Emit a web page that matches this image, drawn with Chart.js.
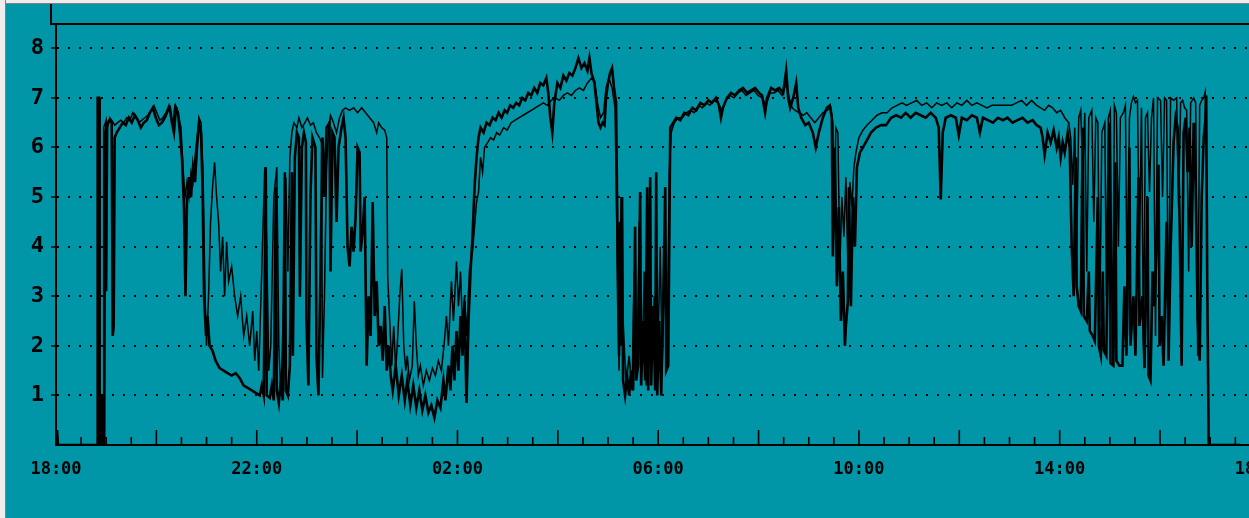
<!DOCTYPE html>
<html>
<head>
<meta charset="utf-8">
<script src="https://cdn.jsdelivr.net/npm/chart.js@4.4.1/dist/chart.umd.min.js"></script>
<style>
  html, body { margin: 0; padding: 0; background: #0096a8; overflow: hidden; }
  #wrap { position: absolute; left: 0; top: 0; width: 1300px; height: 518px; }
  .edge-top { position: absolute; left: 0; top: 0; width: 1249px; height: 3px; background: #ededed; border-bottom: 1px solid #808080; }
  .edge-left { position: absolute; left: 0; top: 0; width: 5px; height: 518px; background: #ededed; border-right: 1px solid #808080; }
</style>
</head>
<body>
<div id="wrap"><canvas id="chart" width="1300" height="518"></canvas></div>
<div class="edge-top"></div>
<div class="edge-left"></div>
<script>
// hours since 18:00 -> level
const hourTicks = [0, 4, 8, 12, 16, 20, 24];
const hourLabels = ['18:00', '22:00', '02:00', '06:00', '10:00', '14:00', '18:00'];
const levelTicks = [1, 2, 3, 4, 5, 6, 7, 8];

const thinSeries = [
  [0.94,0],[0.95,6.4],[1.00,6.55],[1.01,3.1],[1.03,6.4],[1.07,6.6],[1.11,6.55],[1.17,6.45],[1.23,6.5],[1.29,6.55],
  [1.35,6.5],[1.41,6.6],[1.47,6.55],[1.53,6.7],[1.59,6.6],[1.65,6.5],[1.71,6.55],[1.77,6.6],[1.83,6.65],[1.89,6.75],
  [1.95,6.85],[2.01,6.7],[2.07,6.55],[2.13,6.6],[2.19,6.7],[2.25,6.85],[2.29,6.6],[2.33,6.5],[2.37,6.85],[2.41,6.8],
  [2.45,6.6],[2.49,6.4],[2.53,5.6],[2.57,5.0],[2.61,5.3],[2.65,5.0],[2.69,5.5],[2.73,5.3],[2.77,5.8],[2.81,6.2],
  [2.85,6.6],[2.89,6.5],[2.93,5.5],[2.97,3.0],[3.00,2.0],[3.04,3.0],[3.08,4.5],[3.12,5.2],[3.16,5.7],[3.20,5.0],
  [3.24,4.5],[3.28,3.5],[3.32,4.2],[3.36,3.0],[3.40,4.1],[3.44,3.3],[3.50,3.6],[3.56,3.0],[3.62,2.6],[3.68,3.0],
  [3.74,2.2],[3.80,2.6],[3.86,2.0],[3.92,2.7],[3.96,1.7],[4.00,2.3],[4.04,1.5],[4.10,3.5],[4.16,5.6],[4.20,4.0],
  [4.24,1.5],[4.28,2.0],[4.34,5.0],[4.40,5.6],[4.44,2.0],[4.48,1.0],[4.54,3.0],[4.58,5.4],[4.62,3.5],[4.66,5.8],
  [4.70,6.3],[4.74,6.5],[4.80,6.4],[4.84,6.6],[4.90,6.4],[4.96,6.5],[5.01,6.6],[5.07,6.45],[5.13,6.5],[5.19,6.3],
  [5.25,6.2],[5.29,6.1],[5.31,1.35],[5.35,3.0],[5.39,5.5],[5.43,6.4],[5.47,6.65],[5.53,6.5],[5.59,6.3],[5.65,6.6],
  [5.71,6.75],[5.77,6.8],[5.85,6.75],[5.93,6.8],[6.01,6.7],[6.09,6.8],[6.17,6.7],[6.25,6.6],[6.33,6.5],[6.39,6.3],
  [6.43,6.5],[6.49,6.4],[6.55,6.35],[6.59,6.2],[6.61,3.4],[6.65,2.5],[6.69,1.6],[6.73,2.4],[6.77,1.5],[6.81,2.2],
  [6.85,3.0],[6.89,3.55],[6.93,2.0],[6.97,1.5],[7.00,1.8],[7.04,1.3],[7.10,1.6],[7.14,2.9],[7.18,2.0],[7.22,1.4],
  [7.26,1.6],[7.32,1.2],[7.38,1.5],[7.44,1.3],[7.50,1.55],[7.56,1.4],[7.62,1.7],[7.68,1.5],[7.74,2.1],[7.78,2.6],
  [7.82,2.0],[7.88,3.3],[7.92,2.5],[7.98,3.7],[8.02,2.8],[8.06,3.5],[8.10,2.4],[8.14,3.0],[8.18,2.2],[8.24,3.55],
  [8.30,3.9],[8.34,4.4],[8.38,4.9],[8.42,5.1],[8.46,5.8],[8.50,5.5],[8.54,6.0],[8.60,6.1],[8.66,6.2],[8.72,6.15],
  [8.78,6.3],[8.84,6.25],[8.92,6.4],[8.99,6.35],[9.07,6.5],[9.15,6.55],[9.23,6.6],[9.31,6.65],[9.39,6.7],[9.47,6.75],
  [9.55,6.8],[9.63,6.85],[9.71,6.9],[9.79,6.85],[9.87,6.95],[9.95,7.0],[10.03,6.95],[10.11,7.05],[10.19,7.1],[10.27,7.05],
  [10.35,7.15],[10.43,7.2],[10.51,7.15],[10.59,7.3],[10.67,7.4],[10.73,7.35],[10.79,6.9],[10.85,6.6],[10.91,6.7],[10.96,7.2],
  [11.02,7.4],[11.08,7.2],[11.14,6.8],[11.18,4.0],[11.22,1.5],[11.26,5.0],[11.30,2.5],[11.36,1.2],[11.42,1.8],[11.48,1.1],
  [11.52,3.5],[11.58,1.4],[11.62,4.5],[11.68,1.5],[11.72,3.5],[11.76,1.2],[11.82,4.8],[11.88,1.6],[11.92,3.0],[11.98,1.3],
  [12.04,4.0],[12.08,1.6],[12.12,3.5],[12.18,2.0],[12.22,5.5],[12.26,6.3],[12.32,6.5],[12.40,6.6],[12.48,6.6],[12.56,6.7],
  [12.64,6.75],[12.72,6.7],[12.80,6.85],[12.88,6.8],[12.96,6.9],[13.03,6.85],[13.11,6.95],[13.19,6.9],[13.27,6.75],[13.35,6.95],
  [13.43,7.05],[13.51,7.0],[13.59,7.1],[13.67,7.15],[13.75,7.05],[13.83,7.1],[13.91,7.15],[13.99,7.05],[14.07,7.0],[14.15,6.85],
  [14.23,7.1],[14.31,7.1],[14.39,7.15],[14.47,7.05],[14.55,7.3],[14.61,7.0],[14.67,6.8],[14.73,6.75],[14.81,6.7],[14.89,6.65],
  [14.96,6.7],[15.04,6.6],[15.12,6.5],[15.20,6.6],[15.28,6.7],[15.36,6.75],[15.44,6.8],[15.48,6.5],[15.50,4.5],[15.54,6.4],
  [15.58,6.3],[15.62,3.6],[15.66,5.0],[15.70,4.2],[15.74,5.4],[15.78,3.6],[15.82,5.3],[15.86,4.8],[15.90,5.6],[15.94,5.9],
  [16.00,6.2],[16.08,6.35],[16.16,6.45],[16.26,6.55],[16.36,6.65],[16.46,6.7],[16.56,6.7],[16.66,6.8],[16.76,6.85],[16.86,6.9],
  [16.95,6.85],[17.05,6.9],[17.15,6.95],[17.25,6.85],[17.35,6.9],[17.45,6.8],[17.55,6.9],[17.65,6.85],[17.75,6.9],[17.85,6.8],
  [17.95,6.9],[18.05,6.85],[18.15,6.95],[18.25,6.85],[18.35,6.9],[18.45,6.85],[18.55,6.8],[18.65,6.85],[18.75,6.85],[18.85,6.85],
  [18.94,6.85],[19.04,6.85],[19.14,6.9],[19.24,6.95],[19.34,6.85],[19.44,6.95],[19.54,6.85],[19.62,6.8],[19.70,6.75],[19.78,6.85],
  [19.86,6.8],[19.94,6.7],[20.02,6.75],[20.10,6.6],[20.18,6.5],[20.22,6.2],[20.26,5.25],[20.30,6.4],[20.34,4.0],[20.38,6.6],
  [20.42,6.75],[20.46,5.5],[20.50,6.7],[20.54,3.5],[20.58,6.6],[20.64,6.75],[20.68,4.5],[20.72,6.6],[20.76,6.5],[20.80,2.5],
  [20.84,6.3],[20.90,6.5],[20.93,3.0],[20.97,6.6],[21.01,6.75],[21.05,1.6],[21.09,6.85],[21.13,6.7],[21.17,4.0],[21.21,6.6],
  [21.27,6.7],[21.31,6.85],[21.35,2.2],[21.39,6.6],[21.43,6.9],[21.47,7.03],[21.51,6.9],[21.55,6.95],[21.59,3.8],[21.63,6.8],
  [21.67,2.0],[21.71,6.6],[21.75,6.7],[21.79,5.1],[21.83,6.6],[21.87,7.0],[21.91,2.2],[21.95,7.0],[22.01,6.95],[22.05,5.0],
  [22.09,7.0],[22.13,6.95],[22.17,2.0],[22.21,7.0],[22.27,6.95],[22.33,7.0],[22.37,4.8],[22.41,6.9],[22.45,6.95],[22.49,6.8],
  [22.53,6.75],[22.57,3.5],[22.61,6.9],[22.67,7.0],[22.71,6.9],[22.75,1.8],[22.79,6.85],[22.83,6.95],[22.87,7.0],[22.90,7.12],
  [22.92,6.0],[22.94,3.3]
];

const thickSeries = [
  [0.02,0.3],[0.04,0],[0.82,0],[0.83,7.0],[0.86,7.0],[0.87,0],[0.90,0],[0.91,1.0],[0.92,0],[0.95,0.9],[0.96,0],
  [0.98,6.3],[1.01,6.45],[1.07,6.55],[1.11,6.5],[1.13,2.2],[1.15,2.4],[1.17,6.2],[1.21,6.3],[1.27,6.4],[1.33,6.5],
  [1.39,6.45],[1.45,6.6],[1.51,6.5],[1.57,6.65],[1.63,6.55],[1.69,6.4],[1.75,6.5],[1.81,6.55],[1.87,6.7],[1.93,6.8],
  [1.99,6.6],[2.05,6.45],[2.11,6.5],[2.17,6.6],[2.23,6.75],[2.27,6.8],[2.31,6.5],[2.35,6.3],[2.39,6.8],[2.43,6.7],
  [2.47,6.3],[2.51,5.8],[2.55,4.8],[2.58,3.0],[2.61,4.9],[2.65,5.4],[2.69,5.0],[2.73,5.6],[2.77,5.3],[2.81,6.0],
  [2.85,6.5],[2.89,6.3],[2.92,5.2],[2.95,3.0],[2.99,2.2],[3.02,2.6],[3.06,2.0],[3.12,1.9],[3.18,1.7],[3.26,1.55],
  [3.34,1.5],[3.42,1.45],[3.50,1.4],[3.58,1.45],[3.66,1.35],[3.74,1.2],[3.82,1.15],[3.90,1.1],[3.98,1.05],[4.06,1.0],
  [4.10,1.2],[4.14,1.0],[4.18,5.6],[4.20,1.0],[4.26,0.95],[4.30,1.2],[4.34,0.9],[4.38,5.2],[4.40,1.1],[4.44,0.85],
  [4.48,1.3],[4.52,0.9],[4.56,5.5],[4.58,1.1],[4.62,1.0],
  [4.66,1.6],[4.70,5.5],[4.72,1.8],[4.76,5.8],[4.80,6.3],[4.84,6.2],[4.86,3.0],[4.90,6.0],[4.94,6.3],[4.98,6.1],
  [4.99,2.5],[5.03,1.2],[5.07,5.0],[5.11,6.2],[5.17,6.0],[5.19,1.8],[5.23,1.0],[5.27,3.5],[5.31,6.2],[5.35,5.0],
  [5.39,6.4],[5.45,6.5],[5.47,3.5],[5.51,6.3],[5.55,6.2],[5.59,4.5],[5.63,6.0],[5.69,6.4],[5.73,6.6],[5.77,6.2],
  [5.81,4.0],[5.85,3.6],[5.89,4.4],[5.93,3.9],[5.97,4.6],[6.01,6.0],[6.05,5.9],[6.07,3.9],[6.11,4.3],[6.15,5.0],
  [6.19,1.6],[6.23,3.0],[6.27,2.2],[6.31,4.9],[6.35,2.6],[6.39,3.3],[6.43,2.0],[6.47,2.4],[6.51,1.7],[6.55,2.8],
  [6.59,1.5],[6.63,2.0],[6.67,1.4],
  [6.71,1.1],[6.77,1.6],[6.83,1.0],[6.89,1.4],[6.95,0.9],[7.00,1.3],[7.06,0.8],[7.12,1.2],[7.18,0.75],[7.24,1.1],
  [7.30,0.7],[7.36,1.0],[7.42,0.65],[7.48,0.8],[7.54,0.55],[7.60,0.9],[7.66,0.75],[7.72,1.3],[7.76,0.9],[7.82,1.6],
  [7.86,1.1],[7.90,2.0],[7.94,1.3],[7.98,2.3],[8.02,1.5],[8.06,2.6],[8.10,1.8],[8.14,2.9],[8.18,0.85],[8.22,2.5],
  [8.26,3.5],[8.30,4.2],[8.34,5.2],[8.38,5.8],[8.42,6.2],[8.46,6.4],[8.52,6.3],[8.58,6.5],[8.64,6.45],[8.70,6.6],
  [8.76,6.55],[8.82,6.7],[8.88,6.6],[8.94,6.75],[8.99,6.7],[9.05,6.85],[9.11,6.8],[9.17,6.9],[9.23,6.85],[9.29,7.0],
  [9.35,6.95],[9.41,7.1],[9.47,7.05],[9.53,7.2],[9.59,7.1],[9.65,7.3],[9.71,7.25],[9.77,7.4],[9.81,7.1],[9.85,6.6],
  [9.89,6.3],[9.93,6.9],[9.99,7.3],[10.05,7.2],[10.11,7.45],[10.17,7.35],[10.23,7.5],[10.29,7.45],[10.35,7.6],[10.41,7.8],
  [10.47,7.6],[10.53,7.7],[10.59,7.55],[10.63,7.8],[10.67,7.5],[10.73,7.3],[10.77,6.9],[10.81,6.5],[10.85,6.4],[10.89,6.5],
  [10.93,6.45],[10.96,7.0],[11.00,7.3],[11.04,7.5],[11.08,7.6],[11.12,7.2],[11.16,6.9],[11.18,5.0],[11.20,3.0],[11.22,1.8],
  [11.24,4.5],[11.26,2.0],[11.28,5.0],[11.30,1.3],[11.34,1.0],[11.38,1.4],[11.42,1.0],
  [11.46,1.5],[11.50,1.1],[11.54,4.4],[11.56,1.3],[11.60,1.6],[11.64,5.1],[11.66,1.2],[11.70,2.5],[11.74,1.3],[11.78,5.2],
  [11.80,1.1],[11.84,5.4],[11.86,1.2],[11.90,2.8],[11.94,1.1],[11.96,5.5],[11.98,1.0],[12.02,2.5],[12.06,1.0],[12.10,2.9],
  [12.14,5.2],[12.16,1.5],[12.20,1.6],[12.24,6.4],[12.30,6.5],[12.36,6.6],[12.44,6.55],[12.52,6.7],[12.60,6.65],[12.68,6.8],
  [12.76,6.75],[12.84,6.9],[12.92,6.85],[13.00,6.95],[13.07,6.9],[13.15,7.0],[13.21,6.85],[13.25,6.6],[13.29,6.8],[13.37,7.0],
  [13.45,7.1],[13.53,7.05],[13.61,7.15],[13.69,7.2],[13.77,7.1],[13.85,7.15],[13.93,7.2],[14.01,7.1],[14.07,7.05],[14.13,6.7],
  [14.17,7.0],[14.25,7.2],[14.33,7.15],[14.41,7.2],[14.49,7.1],[14.55,7.55],[14.59,7.0],[14.63,6.8],[14.69,7.0],[14.75,7.3],
  [14.79,6.8],[14.85,6.6],[14.93,6.45],[15.00,6.5],[15.08,6.3],[15.14,6.0],[15.20,6.3],[15.28,6.6],[15.36,6.8],[15.42,6.85],
  [15.46,6.6],
  [15.48,3.8],[15.52,6.0],[15.56,3.2],[15.60,4.8],[15.64,2.5],[15.68,3.5],[15.72,2.0],[15.74,2.4],[15.78,2.9],[15.80,5.2],
  [15.84,2.8],[15.88,5.0],[15.92,4.0],[15.96,5.6],[16.02,5.9],[16.08,6.0],[16.16,6.15],[16.24,6.3],[16.34,6.4],[16.44,6.45],
  [16.54,6.45],[16.64,6.6],[16.74,6.65],[16.84,6.6],[16.93,6.7],[17.03,6.6],[17.13,6.7],[17.23,6.65],[17.33,6.6],[17.43,6.7],
  [17.53,6.6],[17.59,6.4],[17.63,4.95],[17.67,6.3],[17.73,6.6],[17.83,6.65],[17.93,6.6],[17.99,6.25],[18.05,6.6],[18.15,6.55],
  [18.25,6.65],[18.35,6.6],[18.41,6.3],[18.47,6.6],[18.57,6.55],[18.67,6.5],[18.77,6.6],[18.87,6.55],[18.96,6.6],[19.06,6.5],
  [19.16,6.55],[19.26,6.6],[19.36,6.5],[19.46,6.55],[19.54,6.45],
  [19.62,6.4],[19.66,6.2],[19.70,5.85],[19.76,6.3],[19.82,6.1],[19.88,6.35],[19.94,6.0],[19.98,6.2],[20.02,5.8],[20.06,6.1],
  [20.10,5.9],[20.16,6.3],[20.20,6.0],[20.24,4.0],[20.28,3.0],[20.32,5.8],[20.34,3.2],[20.38,2.8],[20.42,2.7],[20.46,6.4],
  [20.48,2.6],[20.54,2.5],[20.58,3.5],[20.60,2.3],[20.66,2.2],[20.70,2.1],[20.76,5.0],[20.78,2.0],[20.82,1.8],[20.86,3.5],
  [20.88,1.9],[20.93,1.8],[20.99,6.5],[21.01,1.65],[21.07,1.6],[21.11,5.7],[21.13,1.7],[21.19,1.6],[21.25,1.6],[21.29,3.2],
  [21.33,1.8],[21.39,6.0],[21.41,2.0],[21.47,3.0],[21.51,1.8],[21.57,5.4],[21.59,2.4],[21.65,3.0],[21.69,1.55],[21.75,5.0],
  [21.77,1.4],[21.81,1.3],[21.85,3.5],[21.89,2.8],[21.93,4.0],[21.97,5.65],[21.99,2.0],[22.03,2.6],[22.07,1.6],[22.13,4.5],
  [22.17,1.7],[22.21,3.9],[22.27,6.1],[22.31,6.6],[22.35,6.4],[22.39,4.5],[22.43,1.6],[22.47,6.3],[22.51,6.6],[22.55,5.5],
  [22.59,6.4],[22.63,4.0],[22.67,6.5],[22.71,5.2],[22.75,2.5],[22.79,1.7],[22.83,5.0],[22.87,6.2],[22.90,6.5],[22.92,7.05],
  [22.94,3.3],[22.97,0],[23.6,0]
];

const xFont = { family: "'DejaVu Sans Mono', monospace", size: 17, weight: 'bold' };
const yFont = { family: "'DejaVu Sans Mono', monospace", size: 22, weight: 'bold' };

// frame above the plot and the half-hour tick marks
const frame = {
  id: 'frame',
  afterDraw(chart) {
    const { ctx, chartArea: area, scales: { x } } = chart;
    ctx.save();
    ctx.strokeStyle = '#000';
    ctx.lineWidth = 2;
    ctx.beginPath();
    ctx.moveTo(51, 3);
    ctx.lineTo(51, area.top);
    ctx.lineTo(chart.width, area.top);
    ctx.stroke();
    ctx.lineWidth = 1.6;
    for (let h = 0.5; h <= 24; h += 0.5) {
      const px = x.getPixelForValue(h);
      const len = h % 2 === 0 ? 15 : 8;
      ctx.beginPath();
      ctx.moveTo(px, area.bottom);
      ctx.lineTo(px, area.bottom - len);
      ctx.stroke();
    }
    ctx.restore();
  }
};

new Chart(document.getElementById('chart'), {
  type: 'line',
  data: {
    datasets: [
      { data: thinSeries, borderColor: '#000', borderWidth: 1.5, pointRadius: 0 },
      { data: thickSeries, borderColor: '#000', borderWidth: 2.6, pointRadius: 0 }
    ]
  },
  options: {
    responsive: false,
    animation: false,
    layout: { padding: { top: 24, right: 38, left: 0, bottom: 0 } },
    plugins: { legend: { display: false }, tooltip: { enabled: false } },
    scales: {
      x: {
        type: 'linear',
        min: 0,
        max: 24,
        afterFit: (s) => { s.height = 73; },
        afterBuildTicks: (s) => { s.ticks = hourTicks.map((v) => ({ value: v })); },
        ticks: {
          autoSkip: false,
          maxRotation: 0,
          padding: 14,
          color: '#000',
          font: xFont,
          callback: (v) => hourLabels[hourTicks.indexOf(v)]
        },
        grid: { display: false, drawTicks: false },
        border: { display: true, color: '#000', width: 2 }
      },
      y: {
        min: 0,
        max: 8.49,
        afterFit: (s) => { s.width = 56; },
        afterBuildTicks: (s) => { s.ticks = levelTicks.map((v) => ({ value: v })); },
        ticks: { padding: 7, color: '#000', font: yFont },
        grid: { color: '#000', lineWidth: 2, tickLength: 5, tickColor: '#000', tickWidth: 1.5 },
        border: { display: true, color: '#000', width: 2, dash: [2, 9] }
      }
    }
  },
  plugins: [frame]
});
</script>
</body>
</html>
